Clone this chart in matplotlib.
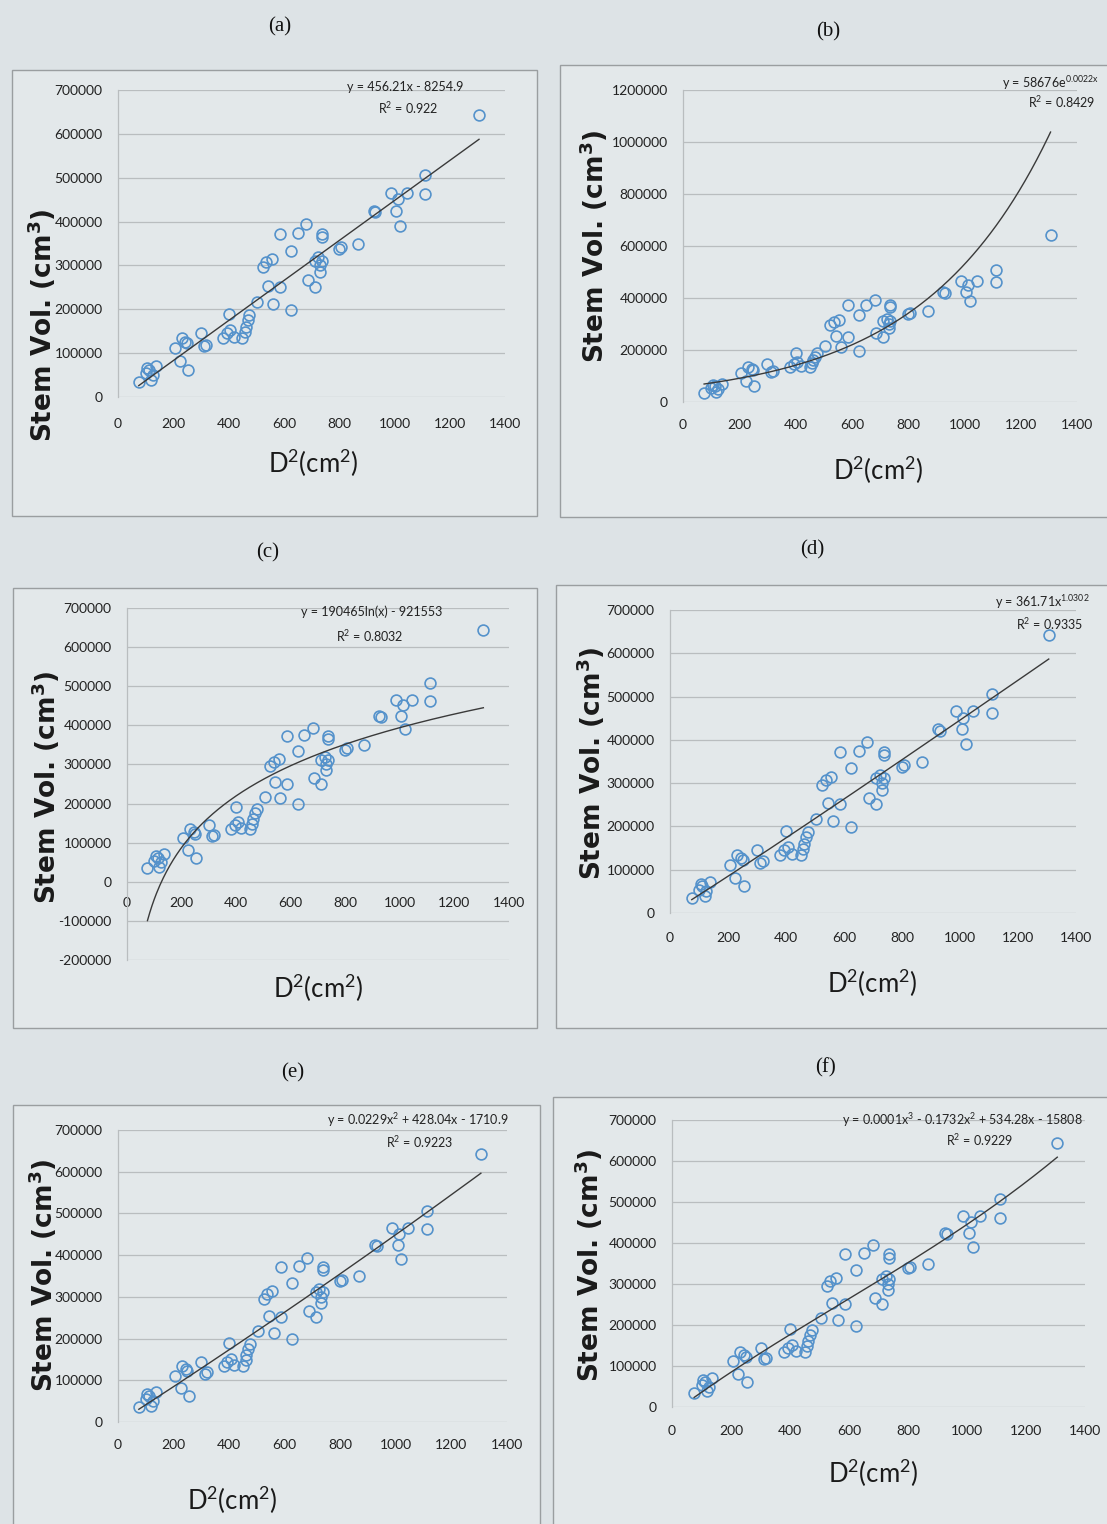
import numpy as np
import matplotlib
matplotlib.use("Agg")
import matplotlib.pyplot as plt
from matplotlib.patches import Rectangle
from matplotlib.ticker import FuncFormatter

W, H = 1107, 1524

# tree data: squared diameter (cm2) and stem volume (cm3)
D2 = [75, 100, 106, 112, 119, 125, 137,
      206, 225, 231, 244, 250, 254,
      300, 312, 319,
      381, 394, 400, 406, 419,
      450, 459, 462, 469, 475,
      504, 524, 537, 544, 556, 562,
      587, 587, 625, 625, 650, 681, 687,
      712, 712, 725, 731, 731, 737, 737, 737,
      800, 806, 869, 925, 931,
      987, 1006, 1012, 1019, 1044,
      1112, 1112, 1306]
VOL = [35000, 54000, 66000, 62000, 39000, 50000, 71000,
       111000, 81000, 134000, 126000, 122000, 62000,
       145000, 116000, 119000,
       134000, 145000, 190000, 152000, 137000,
       134000, 149000, 160000, 175000, 187000,
       217000, 296000, 307000, 254000, 315000, 213000,
       251000, 372000, 198000, 334000, 375000, 394000, 266000,
       251000, 311000, 319000, 300000, 285000, 311000, 372000, 364000,
       338000, 341000, 349000, 424000, 421000,
       466000, 424000, 451000, 390000, 466000,
       507000, 462000, 643000]

# trend line coefficients
LIN = (456.21, -8254.9)
EXPO = (58676, 0.0022)
LOGA = (190465, -921553)
POWR = (361.71, 1.0302)
QUAD = (0.0229, 428.04, -1710.9)
CUBE = (0.0001, -0.1732, 534.28, -15808)

PANEL_LABELS = ["(a)", "(b)", "(c)", "(d)", "(e)", "(f)"]
Y_LIMITS = [(0, 700000), (0, 1200000), (-200000, 700000),
            (0, 700000), (0, 700000), (0, 700000)]
Y_STEPS = [100000, 200000, 100000, 100000, 100000, 100000]
X_TICKS = [0, 200, 400, 600, 800, 1000, 1200, 1400]

EQUATIONS = [
    "y = 456.21x - 8254.9",
    "y = 58676e$^{0.0022x}$",
    "y = 190465ln(x) - 921553",
    "y = 361.71x$^{1.0302}$",
    "y = 0.0229x$^2$ + 428.04x - 1710.9",
    "y = 0.0001x$^3$ - 0.1732x$^2$ + 534.28x - 15808",
]
R2_TEXT = ["R$^2$ = 0.922", "R$^2$ = 0.8429", "R$^2$ = 0.8032",
           "R$^2$ = 0.9335", "R$^2$ = 0.9223", "R$^2$ = 0.9229"]


def trend(i, x):
    if i == 0:
        return LIN[0] * x + LIN[1]
    if i == 1:
        return EXPO[0] * np.exp(EXPO[1] * x)
    if i == 2:
        return LOGA[0] * np.log(x) + LOGA[1]
    if i == 3:
        return POWR[0] * x ** POWR[1]
    if i == 4:
        return QUAD[0] * x ** 2 + QUAD[1] * x + QUAD[2]
    return CUBE[0] * x ** 3 + CUBE[1] * x ** 2 + CUBE[2] * x + CUBE[3]


# layout in pixels: axes box (l, t, r, b), chart frame, text anchors
LAYOUT = [
    dict(ax=(118, 90, 505, 397), frame=(12, 70, 537, 516), title=(280, 27),
         ylab=(42, 325), xlab=(313, 463), eq=(405, 87), r2=(408, 108), pad=15),
    dict(ax=(683, 90, 1077, 402), frame=(560, 65, 1115, 517), title=(828, 32),
         ylab=(594, 246), xlab=(878, 470), eq=(1050, 83), r2=(1062, 102), pad=12),
    dict(ax=(127, 608, 509, 960), frame=(13, 588, 537, 1028), title=(268, 553),
         ylab=(46, 787), xlab=(318, 988), eq=(372, 612), r2=(370, 636), pad=11),
    dict(ax=(670, 610, 1076, 913), frame=(556, 585, 1115, 1028), title=(812, 550),
         ylab=(591, 763), xlab=(872, 983), eq=(1042, 602), r2=(1050, 624), pad=14),
    dict(ax=(118, 1130, 507, 1422), frame=(13, 1105, 540, 1530), title=(293, 1073),
         ylab=(43, 1275), xlab=(232, 1500), eq=(418, 1120), r2=(420, 1142), pad=12),
    dict(ax=(672, 1120, 1085, 1407), frame=(553, 1097, 1115, 1530), title=(826, 1068),
         ylab=(589, 1265), xlab=(873, 1473), eq=(962, 1120), r2=(980, 1140), pad=13),
]

PAGE = "#dde3e6"
CHART = "#e3e8ea"
GRID = "#b9bdbf"
BLUE = "#5592cb"
SMALL = ["Lato", "DejaVu Sans"]


def fx(px):
    return px / W


def fy(py):
    return 1 - py / H


def draw_panel(fig, i):
    lay = LAYOUT[i]

    l, t, r, b = lay["frame"]
    fig.patches.append(Rectangle((fx(l), fy(b)), fx(r - l), (b - t) / H,
                                 transform=fig.transFigure, facecolor=CHART,
                                 edgecolor="#9a9ea0", linewidth=1.0, zorder=-5))

    l, t, r, b = lay["ax"]
    ax = fig.add_axes([fx(l), fy(b), fx(r - l), (b - t) / H])
    ax.set_facecolor("none")
    ax.set_zorder(2)

    lo, hi = Y_LIMITS[i]
    ax.set_xlim(0, 1400)
    ax.set_ylim(lo, hi)
    ax.set_xticks(X_TICKS)
    ax.set_yticks(np.arange(lo, hi + 1, Y_STEPS[i]))
    ax.yaxis.set_major_formatter(FuncFormatter(lambda v, _: f"{v:.0f}"))
    ax.yaxis.grid(True, color=GRID, linewidth=0.9)
    ax.set_axisbelow(True)

    for side in ["top", "right", "bottom"]:
        ax.spines[side].set_visible(False)
    ax.spines["left"].set_color(GRID)
    ax.spines["left"].set_linewidth(0.9)
    if lo < 0:
        ax.spines["bottom"].set_position(("data", 0))

    ax.tick_params(axis="both", length=0, labelsize=10, colors="#222222")
    ax.tick_params(axis="y", pad=11)
    ax.tick_params(axis="x", pad=lay["pad"])
    for lab in ax.get_xticklabels() + ax.get_yticklabels():
        lab.set_family(SMALL)

    ax.plot(D2, VOL, linestyle="none", marker="o", markersize=7.8,
            markerfacecolor="none", markeredgecolor=BLUE,
            markeredgewidth=1.2, clip_on=False)

    xs = np.linspace(min(D2), max(D2), 300)
    ax.plot(xs, trend(i, xs), color="#3a3a3a", linewidth=1.0, clip_on=False)

    tx, ty = lay["title"]
    fig.text(fx(tx), fy(ty), PANEL_LABELS[i], ha="center", va="center",
             family="Liberation Serif", fontsize=15, color="#111111")

    yx, yy = lay["ylab"]
    fig.text(fx(yx), fy(yy), "Stem Vol. (cm$^{\\mathbf{3}}$)", rotation=90,
             ha="center", va="center", family="DejaVu Sans", weight="bold",
             fontsize=19, color="#1a1a1a")

    xx, xy = lay["xlab"]
    fig.text(fx(xx), fy(xy), "D$^{2}$(cm$^{2}$)", ha="center", va="center",
             family="Lato", fontsize=18.5, color="#1a1a1a")

    ex, ey = lay["eq"]
    fig.text(fx(ex), fy(ey), EQUATIONS[i], ha="center", va="center",
             family=SMALL, fontsize=9, color="#222222")
    rx, ry = lay["r2"]
    fig.text(fx(rx), fy(ry), R2_TEXT[i], ha="center", va="center",
             family=SMALL, fontsize=9, color="#222222")


def main():
    plt.rcParams["axes.unicode_minus"] = False
    plt.rcParams["mathtext.fontset"] = "custom"
    plt.rcParams["mathtext.rm"] = "Lato"
    plt.rcParams["mathtext.it"] = "Lato"
    plt.rcParams["mathtext.bf"] = "DejaVu Sans:bold"
    plt.rcParams["mathtext.default"] = "rm"

    fig = plt.figure(figsize=(W / 100, H / 100), dpi=100)
    fig.patch.set_facecolor(PAGE)

    for i in range(6):
        draw_panel(fig, i)

    fig.savefig("out.png", dpi=100, facecolor=PAGE)
    plt.close(fig)


if __name__ == "__main__":
    main()
